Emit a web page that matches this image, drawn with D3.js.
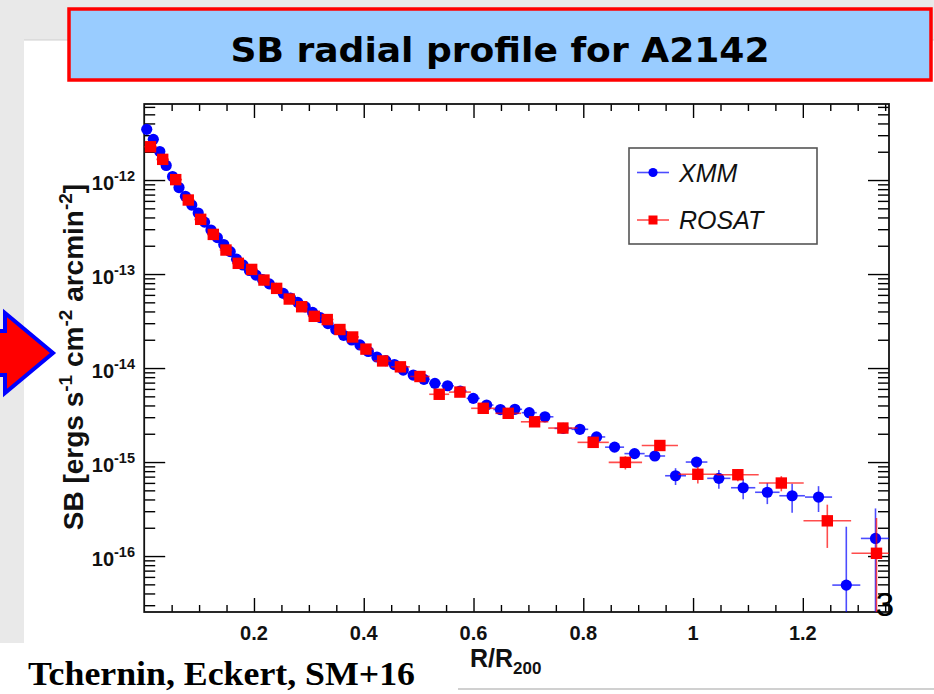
<!DOCTYPE html>
<html>
<head>
<meta charset="utf-8">
<script src="https://cdn.jsdelivr.net/npm/d3@7"></script>
<style>
  html, body { margin: 0; padding: 0; background: #ffffff; }
  svg { display: block; }
</style>
</head>
<body>
<script>
// ---- XMM surface-brightness profile (R/R200, SB, half bin width, 1-sigma error)
const xmmR = [0.0046, 0.0166, 0.0284, 0.0401, 0.0517, 0.0634, 0.0751, 0.0867, 0.0984, 0.1100,
  0.1217, 0.1333, 0.1450, 0.1567, 0.1683, 0.1800, 0.1918, 0.2036, 0.2157, 0.2279,
  0.2404, 0.2534, 0.2665, 0.2798, 0.2933, 0.3069, 0.3208, 0.3348, 0.3490, 0.3634,
  0.3781, 0.3931, 0.4084, 0.4240, 0.4401, 0.4559, 0.4720, 0.4902, 0.5097, 0.5297,
  0.5528, 0.5758, 0.5995, 0.6239, 0.6490, 0.6754, 0.7015, 0.7301, 0.7634, 0.7938,
  0.8242, 0.8570, 0.8934, 0.9304, 0.9681, 1.0064, 1.0470, 1.0913, 1.1353, 1.1805,
  1.2286, 1.2792, 1.3324];
const xmmSB = [3.46e-12, 2.71e-12, 2.01e-12, 1.43e-12, 1.09e-12, 8.32e-13, 6.71e-13, 5.42e-13, 4.46e-13, 3.57e-13,
  2.94e-13, 2.44e-13, 2.06e-13, 1.73e-13, 1.44e-13, 1.25e-13, 1.09e-13, 9.76e-14, 8.74e-14, 7.86e-14,
  7.05e-14, 6.23e-14, 5.55e-14, 5.00e-14, 4.48e-14, 3.91e-14, 3.44e-14, 2.97e-14, 2.57e-14, 2.23e-14,
  1.99e-14, 1.76e-14, 1.50e-14, 1.31e-14, 1.20e-14, 1.09e-14, 9.52e-15, 8.42e-15, 7.58e-15, 6.87e-15,
  6.48e-15, 5.69e-15, 4.76e-15, 4.04e-15, 3.62e-15, 3.64e-15, 3.35e-15, 3.03e-15, 2.28e-15, 2.23e-15,
  1.85e-15, 1.44e-15, 1.23e-15, 1.16e-15, 7.15e-16, 1.00e-15, 6.71e-16, 5.33e-16, 4.77e-16, 4.38e-16,
  4.24e-16, 4.91e-17, 1.54e-16];
const xmmRerr = [0.0060, 0.0060, 0.0058, 0.0058, 0.0058, 0.0058, 0.0058, 0.0058, 0.0058, 0.0058,
  0.0058, 0.0058, 0.0058, 0.0058, 0.0058, 0.0058, 0.0059, 0.0060, 0.0061, 0.0062,
  0.0064, 0.0065, 0.0066, 0.0067, 0.0068, 0.0069, 0.0070, 0.0071, 0.0072, 0.0073,
  0.0074, 0.0076, 0.0077, 0.0079, 0.0080, 0.0080, 0.0086, 0.0094, 0.0099, 0.0108,
  0.0115, 0.0117, 0.0120, 0.0124, 0.0129, 0.0131, 0.0137, 0.0155, 0.0159, 0.0152,
  0.0158, 0.0173, 0.0184, 0.0187, 0.0190, 0.0197, 0.0212, 0.0221, 0.0223, 0.0233,
  0.0247, 0.0255, 0.0266];
const xmmSBerr = [4.0e-14, 3.2e-14, 2.4e-14, 1.7e-14, 1.3e-14, 1.0e-14, 8.0e-15, 6.5e-15, 5.4e-15, 4.3e-15,
  3.6e-15, 3.0e-15, 2.6e-15, 2.2e-15, 1.9e-15, 1.7e-15, 1.5e-15, 1.4e-15, 1.3e-15, 1.2e-15,
  1.1e-15, 1.0e-15, 9.2e-16, 8.5e-16, 7.9e-16, 7.2e-16, 6.6e-16, 6.0e-16, 5.5e-16, 5.0e-16,
  4.6e-16, 4.3e-16, 3.9e-16, 3.6e-16, 3.4e-16, 3.2e-16, 3.0e-16, 2.8e-16, 2.6e-16, 2.5e-16,
  2.4e-16, 2.2e-16, 2.0e-16, 1.9e-16, 1.8e-16, 1.8e-16, 1.7e-16, 1.6e-16, 1.4e-16, 1.4e-16,
  1.3e-16, 1.2e-16, 1.2e-16, 1.2e-16, 1.45e-16, 1.2e-16, 1.5e-16, 1.3e-16, 1.2e-16, 1.5e-16,
  1.3e-16, 1.56e-16, 1.67e-16];

// ---- ROSAT surface-brightness profile
const rosatR = [0.0115, 0.0337, 0.0574, 0.0803, 0.1029, 0.1259, 0.1490, 0.1714, 0.1958, 0.2182,
  0.2413, 0.2643, 0.2869, 0.3098, 0.3335, 0.3566, 0.3798, 0.4040, 0.4344, 0.4668,
  0.5024, 0.5375, 0.5752, 0.6177, 0.6632, 0.7113, 0.7628, 0.8180, 0.8767, 0.9395,
  1.0087, 1.0816, 1.1608, 1.2446, 1.3342];
const rosatSB = [2.26e-12, 1.66e-12, 1.01e-12, 6.13e-13, 3.82e-13, 2.64e-13, 1.80e-13, 1.30e-13, 1.12e-13, 8.63e-14,
  7.04e-14, 5.42e-14, 4.49e-14, 3.55e-14, 3.28e-14, 2.57e-14, 2.14e-14, 1.59e-14, 1.19e-14, 1.03e-14,
  8.13e-15, 5.26e-15, 5.55e-15, 3.73e-15, 3.30e-15, 2.68e-15, 2.30e-15, 1.62e-15, 9.93e-16, 1.50e-15,
  7.41e-16, 7.33e-16, 5.98e-16, 2.37e-16, 1.07e-16];
const rosatRerr = [0.0115, 0.0115, 0.0115, 0.0115, 0.0115, 0.0115, 0.0115, 0.0115, 0.0115, 0.0115,
  0.0115, 0.0115, 0.0115, 0.0115, 0.0115, 0.0115, 0.0115, 0.0137, 0.0157, 0.0170,
  0.0177, 0.0182, 0.0200, 0.0220, 0.0234, 0.0250, 0.0267, 0.0285, 0.0304, 0.0330,
  0.0355, 0.0380, 0.0408, 0.0434, 0.0455];
const rosatSBerr = [4.5e-14, 3.3e-14, 2.0e-14, 1.2e-14, 7.6e-15, 5.3e-15, 3.6e-15, 2.6e-15, 2.2e-15, 1.7e-15,
  1.4e-15, 1.1e-15, 9.0e-16, 7.5e-16, 7.2e-16, 6.0e-16, 5.2e-16, 4.2e-16, 3.5e-16, 3.2e-16,
  2.8e-16, 2.2e-16, 2.3e-16, 1.8e-16, 1.7e-16, 1.5e-16, 1.4e-16, 1.2e-16, 1.6e-16, 1.3e-16,
  1.5e-16, 1.1e-16, 1.1e-16, 1.15e-16, 1.47e-16];

// ---- axes
const rDomain = [0, 1.357];
const sbDomain = [2.54e-17, 6.44e-12];
const rMajorTicks = [0.2, 0.4, 0.6, 0.8, 1.0, 1.2];
const rTickLabels = ["0.2", "0.4", "0.6", "0.8", "1", "1.2"];
const rMinorTicks = [0.05, 0.1, 0.15, 0.25, 0.3, 0.35, 0.45, 0.5, 0.55, 0.65, 0.7, 0.75,
  0.85, 0.9, 0.95, 1.05, 1.1, 1.15, 1.25, 1.3, 1.35];
const sbDecades = [1e-16, 1e-15, 1e-14, 1e-13, 1e-12];
const sbDecadeExp = ["-16", "-15", "-14", "-13", "-12"];

const seriesNames = ["XMM", "ROSAT"];
const titleText = "SB radial profile for A2142";
const creditText = "Tchernin, Eckert, SM+16";
const slideNumber = "3";

// ---------------------------------------------------------------
const W = 934, H = 694;
const svg = d3.select("body").append("svg").attr("width", W).attr("height", H);

// slide background
svg.append("rect").attr("x", 0).attr("y", 0).attr("width", W).attr("height", H).attr("fill", "#ffffff");
svg.append("rect").attr("x", 0).attr("y", 0).attr("width", W).attr("height", 40).attr("fill", "#e9e9e9");
svg.append("rect").attr("x", 0).attr("y", 0).attr("width", 24).attr("height", 643).attr("fill", "#e9e9e9");
svg.append("line").attr("x1", 24).attr("x2", W).attr("y1", 40).attr("y2", 40)
  .attr("stroke", "#cfcfcf").attr("stroke-width", 1.2);
svg.append("line").attr("x1", 458).attr("x2", W).attr("y1", 689).attr("y2", 689)
  .attr("stroke", "#d0d0d0").attr("stroke-width", 2);

// title banner
svg.append("rect").attr("x", 69).attr("y", 9).attr("width", 862).attr("height", 71)
  .attr("fill", "#99ccff").attr("stroke", "#ff0000").attr("stroke-width", 3.5);
svg.append("text").attr("x", 500).attr("y", 62).attr("text-anchor", "middle")
  .attr("font-family", "'Comic Sans MS', 'DejaVu Sans Condensed', 'DejaVu Sans', sans-serif")
  .attr("font-weight", "bold").attr("font-size", 34)
  .attr("textLength", 539).attr("lengthAdjust", "spacingAndGlyphs")
  .attr("fill", "#000").text(titleText);

// pointer arrow on the left edge
svg.append("polygon")
  .attr("points", "-10,331 5,331 5,313 53,353 5,393 5,375 -10,375")
  .attr("fill", "#ff0000").attr("stroke", "#0000ff").attr("stroke-width", 4)
  .attr("stroke-linejoin", "miter");

// plot geometry
const P = { left: 144.2, right: 889, top: 104, bottom: 612 };
const x = d3.scaleLinear().domain(rDomain).range([P.left, P.right]);
const y = d3.scaleLog().domain(sbDomain).range([P.bottom, P.top]);

const g = svg.append("g");
g.append("rect").attr("x", P.left).attr("y", P.top)
  .attr("width", P.right - P.left).attr("height", P.bottom - P.top).attr("fill", "#ffffff");

// ticks (ROOT style: on all four sides, inward)
function tickAxis(axis, tx, ty) {
  const a = g.append("g").attr("transform", `translate(${tx},${ty})`).call(axis);
  a.select(".domain").remove();
  a.selectAll("line").attr("stroke", "#000").attr("stroke-width", 1.4);
  a.selectAll("text").remove();
  return a;
}
tickAxis(d3.axisTop(x).tickValues(rMajorTicks).tickSize(14), 0, P.bottom);
tickAxis(d3.axisTop(x).tickValues(rMinorTicks).tickSize(7), 0, P.bottom);
tickAxis(d3.axisBottom(x).tickValues(rMajorTicks).tickSize(14), 0, P.top);
tickAxis(d3.axisBottom(x).tickValues(rMinorTicks).tickSize(7), 0, P.top);

const sbMinor = [];
for (let e = -17; e <= -12; e++) for (let m = 2; m <= 9; m++) {
  const v = m * Math.pow(10, e);
  if (v >= sbDomain[0] && v <= sbDomain[1]) sbMinor.push(v);
}
tickAxis(d3.axisRight(y).tickValues(sbDecades).tickSize(21), P.left, 0);
tickAxis(d3.axisRight(y).tickValues(sbMinor).tickSize(11), P.left, 0);
tickAxis(d3.axisLeft(y).tickValues(sbDecades).tickSize(21), P.right, 0);
tickAxis(d3.axisLeft(y).tickValues(sbMinor).tickSize(11), P.right, 0);

// frame
g.append("rect").attr("x", P.left).attr("y", P.top)
  .attr("width", P.right - P.left).attr("height", P.bottom - P.top)
  .attr("fill", "none").attr("stroke", "#111").attr("stroke-width", 1.8);

const sans = "'Liberation Sans', Arial, Helvetica, sans-serif";

// x tick labels
g.selectAll(".xlab").data(rMajorTicks).enter().append("text")
  .attr("x", d => x(d)).attr("y", 640).attr("text-anchor", "middle")
  .attr("font-family", sans).attr("font-weight", "bold").attr("font-size", 20)
  .attr("fill", "#111").text((d, i) => rTickLabels[i]);

// y tick labels: 10^n
sbDecades.forEach((v, i) => {
  const t = g.append("text").attr("x", 135).attr("y", y(v) + 10).attr("text-anchor", "end")
    .attr("font-family", sans).attr("font-weight", "bold").attr("fill", "#111");
  t.append("tspan").attr("font-size", 20).text("10");
  t.append("tspan").attr("font-size", 14.5).attr("dy", -9).text(sbDecadeExp[i]);
});

// axis titles
const xt = g.append("text").attr("x", 470).attr("y", 667)
  .attr("font-family", sans).attr("font-weight", "bold").attr("fill", "#111");
xt.append("tspan").attr("font-size", 25).text("R/R");
xt.append("tspan").attr("font-size", 17).attr("dy", 7).text("200");

const yt = g.append("text").attr("transform", "translate(83,357) rotate(-90)")
  .attr("text-anchor", "middle").attr("font-family", sans).attr("font-weight", "bold")
  .attr("font-size", 28).attr("fill", "#111");
yt.append("tspan").text("SB [ergs s");
yt.append("tspan").attr("font-size", 19).attr("dy", -11).text("-1");
yt.append("tspan").attr("dy", 11).text(" cm");
yt.append("tspan").attr("font-size", 19).attr("dy", -11).text("-2");
yt.append("tspan").attr("dy", 11).text(" arcmin");
yt.append("tspan").attr("font-size", 19).attr("dy", -11).text("-2");
yt.append("tspan").attr("dy", 11).text("]");

// data
svg.append("defs").append("clipPath").attr("id", "plotclip")
  .append("rect").attr("x", P.left).attr("y", P.top)
  .attr("width", P.right - P.left).attr("height", P.bottom - P.top);

function series(R, SB, Rerr, SBerr, color, marker) {
  const pts = R.map((r, i) => ({ r, sb: SB[i], re: Rerr[i], se: SBerr[i] }));
  const eb = g.append("g").attr("clip-path", "url(#plotclip)")
    .attr("stroke", color).attr("stroke-width", 1.6).attr("stroke-opacity", 0.7);
  eb.selectAll(".h").data(pts).enter().append("line")
    .attr("x1", d => x(d.r - d.re)).attr("x2", d => x(d.r + d.re))
    .attr("y1", d => y(d.sb)).attr("y2", d => y(d.sb));
  eb.selectAll(".v").data(pts).enter().append("line")
    .attr("x1", d => x(d.r)).attr("x2", d => x(d.r))
    .attr("y1", d => y(d.sb + d.se))
    .attr("y2", d => (d.sb - d.se > sbDomain[0]) ? y(d.sb - d.se) : P.bottom + 2);
  const mk = g.append("g").attr("fill", color);
  if (marker === "circle") {
    mk.selectAll("circle").data(pts).enter().append("circle")
      .attr("cx", d => x(d.r)).attr("cy", d => y(d.sb)).attr("r", 5.6);
  } else {
    mk.selectAll("rect").data(pts).enter().append("rect")
      .attr("x", d => x(d.r) - 5.7).attr("y", d => y(d.sb) - 5.7)
      .attr("width", 11.4).attr("height", 11.4);
  }
}
series(xmmR, xmmSB, xmmRerr, xmmSBerr, "#0000ff", "circle");
series(rosatR, rosatSB, rosatRerr, rosatSBerr, "#ff0000", "square");

// legend
const lg = g.append("g");
lg.append("rect").attr("x", 629).attr("y", 148).attr("width", 188).attr("height", 96)
  .attr("fill", "#ffffff").attr("stroke", "#555").attr("stroke-width", 1.6);
const legendRows = [
  { name: seriesNames[0], color: "#0000ff", marker: "circle", y: 172.5 },
  { name: seriesNames[1], color: "#ff0000", marker: "square", y: 220 }
];
legendRows.forEach(d => {
  lg.append("line").attr("x1", 637).attr("x2", 669).attr("y1", d.y).attr("y2", d.y)
    .attr("stroke", d.color).attr("stroke-width", 1.6).attr("stroke-opacity", 0.7);
  if (d.marker === "circle") {
    lg.append("circle").attr("cx", 653).attr("cy", d.y).attr("r", 4.6).attr("fill", d.color);
  } else {
    lg.append("rect").attr("x", 648.5).attr("y", d.y - 4.5).attr("width", 9).attr("height", 9).attr("fill", d.color);
  }
  lg.append("text").attr("x", 679).attr("y", d.y + 9).attr("font-family", sans)
    .attr("font-style", "italic").attr("font-size", 25).attr("fill", "#111").text(d.name);
});

// slide number and credit
svg.append("text").attr("x", 885).attr("y", 616).attr("text-anchor", "middle")
  .attr("font-family", sans).attr("font-size", 33).attr("fill", "#000").text(slideNumber);
svg.append("text").attr("x", 28).attr("y", 685)
  .attr("font-family", "'Liberation Serif', 'Times New Roman', serif").attr("font-weight", "bold")
  .attr("font-size", 33).attr("textLength", 387).attr("lengthAdjust", "spacingAndGlyphs")
  .attr("fill", "#000").text(creditText);
</script>
</body>
</html>
